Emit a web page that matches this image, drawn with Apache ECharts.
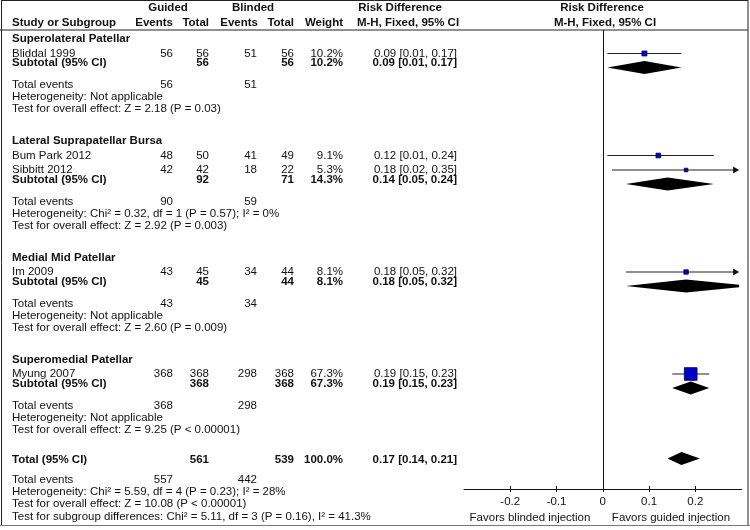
<!DOCTYPE html>
<html>
<head>
<meta charset="utf-8">
<script src="https://cdn.jsdelivr.net/npm/echarts@6/dist/echarts.min.js"></script>
<style>
  html, body { margin: 0; padding: 0; background: #fff; }
  #chart { width: 750px; height: 530px; }
</style>
</head>
<body>
<div id="chart"></div>
<script>
// Subgroups and studies
const groupNames = ['Superolateral Patellar', 'Lateral Suprapatellar Bursa', 'Medial Mid Patellar', 'Superomedial Patellar'];

const studyNames = ['Bliddal 1999', 'Bum Park 2012', 'Sibbitt 2012', 'Im 2009', 'Myung 2007'];
const studyGroup = [0, 1, 1, 2, 3];
const guidedEvents = [56, 48, 42, 43, 368];
const guidedTotal = [56, 50, 42, 45, 368];
const blindedEvents = [51, 41, 18, 34, 298];
const blindedTotal = [56, 49, 22, 44, 368];
const studyWeight = [10.2, 9.1, 5.3, 8.1, 67.3];
const studyRD = [0.09, 0.12, 0.18, 0.18, 0.19];
const studyLow = [0.01, 0.01, 0.02, 0.05, 0.15];
const studyHigh = [0.17, 0.24, 0.35, 0.32, 0.23];

const subGuidedTotal = [56, 92, 45, 368];
const subBlindedTotal = [56, 71, 44, 368];
const subGuidedEvents = [56, 90, 43, 368];
const subBlindedEvents = [51, 59, 34, 298];
const subWeight = [10.2, 14.3, 8.1, 67.3];
const subRD = [0.09, 0.14, 0.18, 0.19];
const subLow = [0.01, 0.05, 0.05, 0.15];
const subHigh = [0.17, 0.24, 0.32, 0.23];
const subHeterogeneity = ['Not applicable', 'Chi² = 0.32, df = 1 (P = 0.57); I² = 0%', 'Not applicable', 'Not applicable'];
const subOverall = ['Z = 2.18 (P = 0.03)', 'Z = 2.92 (P = 0.003)', 'Z = 2.60 (P = 0.009)', 'Z = 9.25 (P < 0.00001)'];

const totalCounts = [561, 539];
const totalEvents = [557, 442];
const totalWeight = 100.0;
const totalRD = [0.17, 0.14, 0.21];
const totalHeterogeneity = 'Chi² = 5.59, df = 4 (P = 0.23); I² = 28%';
const totalOverall = 'Z = 10.08 (P < 0.00001)';
const subgroupDifferences = 'Chi² = 5.11, df = 3 (P = 0.16), I² = 41.3%';

const tickValues = [-0.2, -0.1, 0, 0.1, 0.2];
const xMin = -0.3;
const xMax = 0.3;

// vertical layout of the table lines
const groupY = [], studyY = [], subTextY = [], subMarkY = [], eventsY = [], hetY = [], effectY = [];
let y = 39;
groupNames.forEach((g, gi) => {
    groupY.push(y);
    let last = y;
    studyGroup.forEach((sg, si) => {
        if (sg === gi) {
            last += 14.5;
            studyY[si] = last;
        }
    });
    subTextY.push(last + 9.5);
    subMarkY.push(last + 14);
    eventsY.push(last + 31.5);
    hetY.push(last + 43.5);
    effectY.push(last + 55.5);
    y = last + 87.5;
});
const totalY = y - 1.5;
const totalEventsY = totalY + 20;
const totalHetY = totalEventsY + 12;
const totalEffectY = totalHetY + 12;
const subgroupY = totalEffectY + 12.5;

const font = '"Liberation Sans", Arial, Helvetica, sans-serif';
const col = {name: 12, gEv: 173, gTot: 209, bEv: 257, bTot: 294, weight: 343, rd: 457};

const fmtCI = (rd, lo, hi) => `${rd.toFixed(2)} [${lo.toFixed(2)}, ${hi.toFixed(2)}]`;

function txt(text, x, y, align, bold) {
    return {
        type: 'text', x: x, y: y, silent: true,
        style: {
            text: String(text), fontFamily: font, fontSize: 11.5,
            fontWeight: bold ? 'bold' : 'normal', fill: '#111',
            textAlign: align || 'left', textVerticalAlign: 'middle'
        }
    };
}

function line(x1, y1, x2, y2, color) {
    return {
        type: 'line', silent: true,
        shape: {x1: x1, y1: y1, x2: x2, y2: y2},
        style: {stroke: color || '#222', lineWidth: 1}
    };
}

const graphics = [];
// frame
graphics.push(line(1, 0.5, 748, 0.5));
graphics.push(line(1.5, 0, 1.5, 525));
graphics.push(line(748, 0, 748, 525));
graphics.push(line(0, 30, 748, 30));
graphics.push(line(0, 525.5, 750, 525.5, '#777'));

// header
graphics.push(txt('Guided', 168, 8, 'center', true));
graphics.push(txt('Blinded', 253, 8, 'center', true));
graphics.push(txt('Risk Difference', 400, 8, 'center', true));
graphics.push(txt('Risk Difference', 602, 8, 'center', true));
graphics.push(txt('Study or Subgroup', col.name, 23, 'left', true));
graphics.push(txt('Events', col.gEv, 23, 'right', true));
graphics.push(txt('Total', col.gTot, 23, 'right', true));
graphics.push(txt('Events', col.bEv + 1, 23, 'right', true));
graphics.push(txt('Total', col.bTot, 23, 'right', true));
graphics.push(txt('Weight', col.weight, 23, 'right', true));
graphics.push(txt('M-H, Fixed, 95% CI', 408, 23, 'center', true));
graphics.push(txt('M-H, Fixed, 95% CI', 605, 23, 'center', true));

// studies
studyNames.forEach((name, i) => {
    const yy = studyY[i];
    graphics.push(txt(name, col.name, yy));
    graphics.push(txt(guidedEvents[i], col.gEv, yy, 'right'));
    graphics.push(txt(guidedTotal[i], col.gTot, yy, 'right'));
    graphics.push(txt(blindedEvents[i], col.bEv, yy, 'right'));
    graphics.push(txt(blindedTotal[i], col.bTot, yy, 'right'));
    graphics.push(txt(studyWeight[i].toFixed(1) + '%', col.weight, yy, 'right'));
    graphics.push(txt(fmtCI(studyRD[i], studyLow[i], studyHigh[i]), col.rd, yy, 'right'));
});

// subgroups
groupNames.forEach((g, gi) => {
    graphics.push(txt(g, col.name, groupY[gi], 'left', true));
    const ys = subTextY[gi];
    graphics.push(txt('Subtotal (95% CI)', col.name, ys, 'left', true));
    graphics.push(txt(subGuidedTotal[gi], col.gTot, ys, 'right', true));
    graphics.push(txt(subBlindedTotal[gi], col.bTot, ys, 'right', true));
    graphics.push(txt(subWeight[gi].toFixed(1) + '%', col.weight, ys, 'right', true));
    graphics.push(txt(fmtCI(subRD[gi], subLow[gi], subHigh[gi]), col.rd, ys, 'right', true));
    graphics.push(txt('Total events', col.name, eventsY[gi]));
    graphics.push(txt(subGuidedEvents[gi], col.gEv, eventsY[gi], 'right'));
    graphics.push(txt(subBlindedEvents[gi], col.bEv, eventsY[gi], 'right'));
    graphics.push(txt('Heterogeneity: ' + subHeterogeneity[gi], col.name, hetY[gi]));
    graphics.push(txt('Test for overall effect: ' + subOverall[gi], col.name, effectY[gi]));
});

// overall total
graphics.push(txt('Total (95% CI)', col.name, totalY, 'left', true));
graphics.push(txt(totalCounts[0], col.gTot, totalY, 'right', true));
graphics.push(txt(totalCounts[1], col.bTot, totalY, 'right', true));
graphics.push(txt(totalWeight.toFixed(1) + '%', col.weight, totalY, 'right', true));
graphics.push(txt(fmtCI(totalRD[0], totalRD[1], totalRD[2]), col.rd, totalY, 'right', true));
graphics.push(txt('Total events', col.name, totalEventsY));
graphics.push(txt(totalEvents[0], col.gEv, totalEventsY, 'right'));
graphics.push(txt(totalEvents[1], col.bEv, totalEventsY, 'right'));
graphics.push(txt('Heterogeneity: ' + totalHeterogeneity, col.name, totalHetY));
graphics.push(txt('Test for overall effect: ' + totalOverall, col.name, totalEffectY));
graphics.push(txt('Test for subgroup differences: ' + subgroupDifferences, col.name, subgroupY));

graphics.push(txt('Favors blinded injection', 530, 518, 'center'));
graphics.push(txt('Favors guided injection', 671, 518, 'center'));

// confidence interval line, with an arrow when it runs off the scale
function renderCI(params, api) {
    const lo = api.value(0), hi = api.value(1), yv = api.value(2);
    const a = api.coord([Math.max(lo, xMin), yv]);
    const edge = api.coord([xMax, yv])[0] - 2.5;
    let bx = api.coord([hi, yv])[0];
    const over = bx > edge;
    if (over) bx = edge;
    const children = [{
        type: 'line',
        shape: {x1: a[0], y1: a[1], x2: over ? bx - 4 : bx, y2: a[1]},
        style: {stroke: '#222', lineWidth: 1}
    }];
    if (over) {
        children.push({
            type: 'polygon',
            shape: {points: [[bx - 6, a[1] - 3.5], [bx, a[1]], [bx - 6, a[1] + 3.5]]},
            style: {fill: '#111'}
        });
    }
    return {type: 'group', children: children};
}

function renderDiamond(params, api) {
    const lo = api.value(0), hi = api.value(1), rd = api.value(2), yv = api.value(3);
    const L = api.coord([lo, yv]), C = api.coord([rd, yv]), H = api.coord([hi, yv]);
    const edge = api.coord([xMax, yv])[0] - 2.5;
    const h = 6.5;
    let pts;
    if (H[0] > edge) {
        const eh = h * (H[0] - edge) / (H[0] - C[0]);
        pts = [[L[0], L[1]], [C[0], C[1] - h], [edge, C[1] - eh], [edge, C[1] + eh], [C[0], C[1] + h]];
    } else {
        pts = [[L[0], L[1]], [C[0], C[1] - h], [H[0], H[1]], [C[0], C[1] + h]];
    }
    return {type: 'polygon', shape: {points: pts}, style: {fill: '#000'}};
}

const diamondData = subRD.map((rd, i) => [subLow[i], subHigh[i], rd, subMarkY[i]]);
diamondData.push([totalRD[1], totalRD[2], totalRD[0], totalY - 1.5]);

const chart = echarts.init(document.getElementById('chart'));
chart.setOption({
    animation: false,
    graphic: graphics,
    grid: {left: 464, right: 8.4, top: 30, bottom: 41},
    xAxis: [
        {
            type: 'value', min: xMin, max: xMax, position: 'bottom',
            axisLine: {lineStyle: {color: '#111', width: 1}},
            axisTick: {show: true, length: 3, customValues: tickValues, lineStyle: {color: '#111'}},
            axisLabel: {
                customValues: tickValues, color: '#111', fontSize: 11.5, fontFamily: font, margin: 7,
                formatter: (v) => String(v)
            },
            splitLine: {show: false}
        },
        {
            type: 'value', min: xMin, max: xMax, position: 'bottom',
            axisLine: {show: false},
            axisTick: {show: true, inside: true, length: 3, customValues: tickValues, lineStyle: {color: '#111'}},
            axisLabel: {show: false},
            splitLine: {show: false}
        }
    ],
    yAxis: {type: 'value', min: 30, max: 489, inverse: true, show: false},
    series: [
        {
            type: 'custom',
            renderItem: renderCI,
            encode: {x: [0, 1], y: 2},
            data: studyLow.map((lo, i) => [lo, studyHigh[i], studyY[i]]),
            markLine: {
                silent: true, symbol: 'none', label: {show: false},
                lineStyle: {color: '#111', width: 1, type: 'solid'},
                data: [{xAxis: 0}]
            },
            z: 2
        },
        {
            type: 'scatter',
            symbol: 'rect',
            data: studyRD.map((v, i) => [v, studyY[i], studyWeight[i]]),
            symbolSize: (d) => 1.55 * Math.sqrt(d[2]),
            itemStyle: {color: '#0000c8', borderColor: '#00003a', borderWidth: 0.8, opacity: 1},
            z: 3
        },
        {
            type: 'custom',
            renderItem: renderDiamond,
            encode: {x: [0, 1], y: 3},
            data: diamondData,
            z: 3
        }
    ]
});
</script>
</body>
</html>
